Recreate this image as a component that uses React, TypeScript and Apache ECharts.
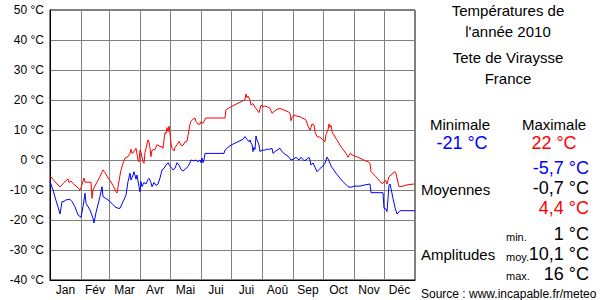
import React, { useEffect, useRef } from "react";
import * as echarts from "echarts";

const monthNames = ["Jan", "Fév", "Mar", "Avr", "Mai", "Jui", "Jui", "Aoû", "Sep", "Oct", "Nov", "Déc"];
const monthStarts = [0, 31, 59, 90, 120, 151, 181, 212, 243, 273, 304, 334, 365];
const yTicks = [-40, -30, -20, -10, 0, 10, 20, 30, 40, 50];

// [day of year, °C]
const maxTemps: [number, number][] = [
  [0, -5.2], [3, -6.5], [7, -8], [10, -9], [14, -7.5], [18, -6.3], [19, -7.5], [21, -7], [23, -7.8], [24, -8.2],
  [26, -8.6], [27, -9], [30, -10], [31, -9.3], [34, -6], [35, -7.4], [38, -7.4], [41, -7.4], [42, -12.8], [43, -10],
  [46, -8], [50, -5.5], [53, -3.3], [55, -4.2], [58, -6], [60, -6.8], [63, -8.5], [66, -10.6], [67, -11], [68, -9],
  [69, -7], [71, -3.3], [73, -1.1], [75, 0.6], [78, 1.1], [80, 2.2], [81, 3.6], [82, 2.2], [84, 2.8], [86, 3.9],
  [88, 0], [89, -0.6], [90, 3.3], [91, 2.5], [93, -0.6], [94, -1.1], [95, 2.5], [98, 6.7], [99, 6], [100, 3.9],
  [101, 1.1], [102, 3.3], [105, 3.5], [107, 5.1], [110, 4.5], [112, 4.4], [113, 3.9], [114, 6.7], [115, 9.1], [116, 8.8],
  [117, 10.8], [118, 9.5], [119, 11.3], [120, 9], [121, 5.6], [122, 3.9], [124, 3], [125, 4.2], [127, 5.1], [129, 6.2],
  [131, 4.9], [133, 4.9], [135, 6], [137, 6.2], [138, 8.2], [140, 11.9], [141, 12.9], [143, 13.6], [145, 14], [146, 12.8],
  [148, 12], [150, 11.9], [151, 12.8], [153, 12.2], [155, 13.6], [156, 14], [175, 14], [176, 16.7], [178, 17.2], [182, 17.9],
  [186, 18.6], [191, 19.4], [195, 20.2], [196, 22], [197, 20.8], [198, 21.3], [200, 20], [201, 18.3], [203, 18.8], [205, 17.6],
  [207, 16.7], [209, 15.8], [211, 18.3], [213, 17.8], [215, 18], [218, 17.6], [220, 17.2], [222, 15.6], [224, 16.1], [227, 16.9],
  [230, 17.2], [232, 16.9], [235, 16.5], [238, 16.1], [240, 15.6], [241, 13.1], [242, 14.1], [244, 15], [246, 14.7], [250, 14.4],
  [253, 13.9], [255, 13.6], [256, 13.3], [258, 11.3], [260, 10], [261, 10.9], [262, 12], [264, 11.7], [265, 9.4], [267, 7.8],
  [270, 7.6], [273, 6.7], [275, 6.1], [276, 8.5], [278, 10], [279, 12], [280, 10.9], [281, 11.5], [282, 9.4], [286, 7.2],
  [291, 4.4], [296, 2.2], [298, 0.9], [300, 2.2], [302, 1.7], [305, 1.3], [310, 0.6], [315, -0.2], [318, -0.6], [320, -1.1],
  [321, -3.9], [326, -5.6], [331, -7.6], [333, -7.8], [335, -6.9], [336, -6.9], [337, -8], [339, -5.6], [342, -4.7], [345, -3.9],
  [346, -4.5], [349, -8.9], [353, -8.7], [357, -8.3], [364, -8],
];

const minTemps: [number, number][] = [
  [0, -7.2], [3, -10], [6, -13.5], [8, -15.6], [10, -18], [12, -13.9], [14, -13.8], [16, -13.3], [20, -13.1], [22, -13.9],
  [25, -15.6], [28, -18.3], [31, -19.1], [33, -15.6], [35, -11.1], [36, -14.4], [40, -16.7], [43, -19.4], [44, -21], [46, -17.5],
  [50, -12.2], [52, -8.9], [53, -12.2], [58, -13.3], [62, -14.5], [65, -15.6], [68, -16.1], [70, -16.1], [73, -13.9], [76, -11.7],
  [78, -7.2], [80, -4.4], [81, -6.7], [83, -5], [84, -3.9], [86, -6.4], [87, -5], [89, -8.9], [90, -10.6], [91, -7.2],
  [92, -8.9], [94, -7.5], [96, -8], [98, -6.5], [99, -6.1], [101, -7.5], [102, -8.9], [104, -7.5], [106, -8.5], [108, -8],
  [110, -6], [112, -3.3], [114, -2.8], [116, -1.7], [118, -0.9], [120, -2], [121, -2.4], [123, -3.3], [125, -2.8], [127, -0.9],
  [129, -1.7], [131, -3.1], [133, -3.7], [135, -3.1], [138, -2.2], [140, -0.9], [141, 0], [144, -0.3], [146, 0], [148, -0.6],
  [150, 0], [151, -0.9], [152, 0.6], [153, -0.9], [154, 0], [155, 2.2], [174, 2.2], [175, 3.3], [178, 4.2], [181, 5],
  [185, 5.6], [188, 6.1], [193, 6.9], [195, 7.8], [197, 6.9], [199, 6.1], [200, 6.7], [201, 5.6], [202, 5.3], [203, 2.8],
  [204, 4.2], [205, 3.5], [206, 8], [207, 6.7], [209, 5], [210, 2.8], [212, 3.3], [215, 3.3], [217, 3.6], [220, 3.6],
  [222, 3.9], [223, 2.2], [225, 2.8], [227, 3.3], [230, 3.9], [232, 2.8], [235, 1.9], [238, 1.3], [241, 0], [243, 0.2],
  [246, 0.9], [249, 0], [251, 0.9], [254, -0.2], [256, 0], [259, 0.9], [260, 0], [261, -1.7], [263, -1], [265, -2.4],
  [267, -3.9], [270, -2.8], [273, -2], [275, -1.1], [277, 1], [278, 0.4], [280, -1.1], [281, -2], [286, -4.4], [290, -6.1],
  [293, -7.2], [298, -8.9], [301, -9.1], [304, -8.7], [310, -8.7], [315, -8.3], [320, -8], [321, -10.9], [333, -10.9], [334, -16.1],
  [336, -16.4], [337, -17.2], [338, -12.8], [339, -8.3], [340, -8], [341, -9.5], [343, -12.8], [345, -15.8], [347, -18], [350, -16.9],
  [365, -16.9],
];

const titleLines = ["Températures de", "l'année 2010", "Tete de Viraysse", "France"];
const extremes = { min: "-21 °C", max: "22 °C" };
const averages = ["-5,7 °C", "-0,7 °C", "4,4 °C"];
const amplitudeLabels = ["min.", "moy.", "max."];
const amplitudes = ["1 °C", "10,1 °C", "16 °C"];
const sourceText = "Source : www.incapable.fr/meteo";

const FONT = '"Liberation Sans", Arial, sans-serif';

export default function App() {
  const ref = useRef<HTMLDivElement>(null);
  useEffect(() => {
    if (!ref.current) return;
    const chart = echarts.init(ref.current, null, { renderer: "svg" });
    const monthMids = monthNames.map((_, i) => (monthStarts[i] + monthStarts[i + 1]) / 2);
    const txt = (text: string, x: number, y: number, opts: any = {}) => ({
      type: "text",
      x,
      y,
      style: {
        text,
        fontFamily: FONT,
        fontSize: opts.size ?? 15,
        fill: opts.color ?? "#000",
        align: opts.align ?? "center",
        verticalAlign: "middle",
      },
    });
    const graphics: any[] = [
      txt(titleLines[0], 508, 10),
      txt(titleLines[1], 508, 31),
      txt(titleLines[2], 508, 57),
      txt(titleLines[3], 508, 78),
      txt("Minimale", 460, 124),
      txt("Maximale", 554, 124),
      txt(extremes.min, 462, 143, { size: 18, color: "#0000ff" }),
      txt(extremes.max, 554, 143, { size: 18, color: "#ff0000" }),
      txt(averages[0], 589, 168, { size: 18, color: "#0000ff", align: "right" }),
      txt(averages[1], 589, 188, { size: 18, color: "#000", align: "right" }),
      txt(averages[2], 589, 208, { size: 18, color: "#ff0000", align: "right" }),
      txt("Moyennes", 421, 189, { align: "left" }),
      txt("Amplitudes", 421, 254, { align: "left" }),
      txt(amplitudeLabels[0], 506, 237, { size: 11, align: "left" }),
      txt(amplitudeLabels[1], 506, 257, { size: 11, align: "left" }),
      txt(amplitudeLabels[2], 506, 276, { size: 11, align: "left" }),
      txt(amplitudes[0], 589, 234, { size: 18, align: "right" }),
      txt(amplitudes[1], 589, 254, { size: 18, align: "right" }),
      txt(amplitudes[2], 589, 274, { size: 18, align: "right" }),
      txt(sourceText, 421, 294, { size: 12, align: "left" }),
    ];
    chart.setOption({
      animation: false,
      backgroundColor: "#fff",
      grid: {
        left: 50,
        top: 10,
        width: 365,
        height: 270,
        show: true,
        borderColor: "#000",
        borderWidth: 1,
        backgroundColor: "transparent",
      },
      xAxis: {
        type: "value",
        min: 0,
        max: 365,
        splitLine: { show: false },
        axisLine: { show: true, onZero: false, lineStyle: { color: "#000", width: 1 } },
        axisTick: {
          show: true,
          inside: true,
          length: 270,
          customValues: monthStarts.slice(1, 12),
          lineStyle: { color: "#808080", width: 1 },
        },
        axisLabel: {
          customValues: monthMids,
          formatter: (v: number) => {
            const i = monthMids.findIndex((m) => Math.abs(m - v) < 0.01);
            return i >= 0 ? monthNames[i] : "";
          },
          color: "#000",
          fontFamily: FONT,
          fontSize: 12,
          margin: 4,
        },
      },
      yAxis: {
        type: "value",
        min: yTicks[0],
        max: yTicks[yTicks.length - 1],
        interval: 10,
        axisLine: { show: true, onZero: false, lineStyle: { color: "#000", width: 1 } },
        axisTick: { show: false },
        splitLine: { show: true, lineStyle: { color: "#808080", width: 1 } },
        axisLabel: {
          formatter: (v: number) => `${v} °C`,
          color: "#000",
          fontFamily: FONT,
          fontSize: 12,
          margin: 6,
        },
      },
      series: [
        {
          type: "line",
          data: maxTemps,
          showSymbol: false,
          lineStyle: { color: "#ff0000", width: 1 },
          itemStyle: { color: "#ff0000" },
          z: 3,
        },
        {
          type: "line",
          data: minTemps,
          showSymbol: false,
          lineStyle: { color: "#0000ff", width: 1 },
          itemStyle: { color: "#0000ff" },
          z: 3,
        },
      ],
      graphic: graphics,
    });
    return () => chart.dispose();
  }, []);
  return (
    <div
      ref={ref}
      style={{ position: "fixed", left: 0, top: 0, width: 600, height: 300, background: "#fff" }}
    />
  );
}
